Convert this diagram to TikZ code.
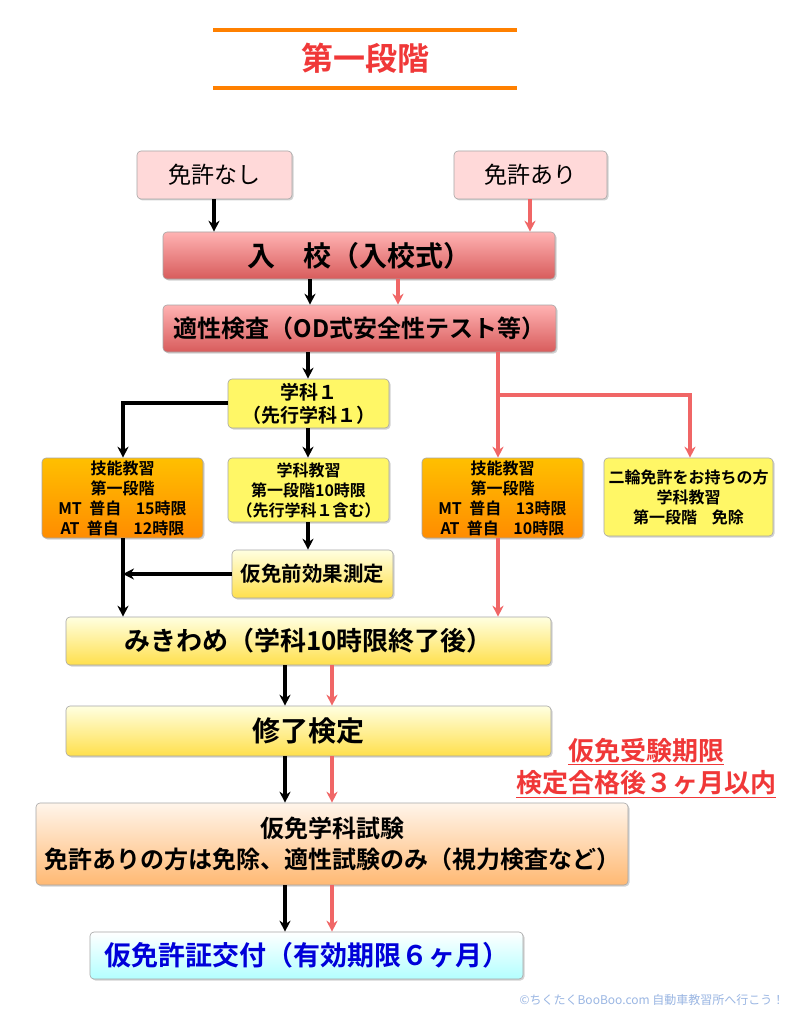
\documentclass[tikz,border=0pt]{standalone}
\usepackage{fontspec}
\setmainfont{Noto Sans CJK JP}[BoldFont={* Bold}]
\usetikzlibrary{arrows.meta,shadows}
\definecolor{rd}{HTML}{F06666}
\definecolor{tred}{HTML}{F03838}
\tikzset{
 bx/.style={draw=gray!70,rounded corners=4pt,line width=0.6pt,align=center,font=\bfseries,inner sep=0pt,drop shadow={shadow xshift=1.5pt,shadow yshift=-1.5pt,opacity=.35}},
 pinkb/.style={bx,fill=red!15},
 redb/.style={bx,top color=red!30,bottom color=rd!90!black},
 yel/.style={bx,fill=yellow!60},
 org/.style={bx,top color=orange!50!yellow,bottom color=orange!90!yellow},
 lyel/.style={bx,top color=yellow!12,bottom color=orange!35!yellow!70},
 lorg/.style={bx,top color=orange!8,bottom color=orange!55},
 cy/.style={bx,top color=white,bottom color=cyan!30},
 ka/.style={-{Stealth[length=11pt,width=11pt]},line width=3.4pt,black},
 ra/.style={-{Stealth[length=11pt,width=11pt]},line width=3.4pt,rd},
}
\begin{document}
\begin{tikzpicture}[x=1pt,y=-1pt]
\useasboundingbox[fill=white] (0,0) rectangle (807,1024);
\draw[orange,line width=4pt] (213,30)--(517,30) (213,88)--(517,88);
\node[font=\bfseries\fontsize{32}{34}\selectfont,text=tred] (title) at (365,58) {第一段階};
\def\B#1#2#3#4#5#6#7{\node[#1,minimum width=#4-#2,minimum height=#5-#3] (#6) at ({(#2+#4)/2},{(#3+#5)/2}) {#7};}
\B{pinkb,font=\mdseries\fontsize{23}{26}\selectfont}{137}{151}{292}{199}{nas}{免許なし}
\B{pinkb,font=\mdseries\fontsize{23}{26}\selectfont}{454}{151}{607}{199}{ari}{免許あり}
\B{redb,font=\bfseries\fontsize{28}{30}\selectfont}{163}{232}{555}{279}{nyu}{入　校（入校式）}
\B{redb,font=\bfseries\fontsize{24}{26}\selectfont}{163}{305}{556}{352}{tek}{適性検査（OD式安全性テスト等）}
\B{yel,font=\bfseries\fontsize{19}{23}\selectfont}{228}{379}{389}{428}{gk1}{学科１\\（先行学科１）}
\B{org,font=\bfseries\fontsize{16}{20}\selectfont}{42}{458}{203}{538}{gl}{技能教習\\第一段階\\MT\ \ 普自\ \ \ \ 15時限\\AT\ \ 普自\ \ \ \ 12時限}
\B{yel,font=\bfseries\fontsize{16}{20}\selectfont}{228}{458}{389}{522}{gm}{学科教習\\第一段階10時限\\（先行学科１含む）}
\B{org,font=\bfseries\fontsize{16}{20}\selectfont}{422}{458}{583}{538}{gr}{技能教習\\第一段階\\MT\ \ 普自\ \ \ \ 13時限\\AT\ \ 普自\ \ \ \ 10時限}
\B{yel,font=\bfseries\fontsize{16}{20}\selectfont}{604}{458}{773}{536}{ni}{二輪免許をお持ちの方\\学科教習\\第一段階\ \ \ \ 免除}
\B{lyel,font=\bfseries\fontsize{20.5}{23}\selectfont}{232}{550}{393}{598}{kk}{仮免前効果測定}
\B{lyel,font=\bfseries\fontsize{26}{28}\selectfont}{66}{617}{551}{665}{mk}{みきわめ（学科10時限終了後）}
\B{lyel,font=\bfseries\fontsize{28}{30}\selectfont}{66}{706}{551}{756}{sk}{修了検定}
\B{lorg,font=\bfseries\fontsize{24}{31}\selectfont}{36}{803}{628}{885}{ks}{仮免学科試験\\免許ありの方は免除、適性試験のみ（視力検査など）}
\B{cy,font=\bfseries\fontsize{27}{29}\selectfont,text=blue!85!black}{90}{932}{523}{979}{kf}{仮免許証交付（有効期限６ヶ月）}
\node[font=\bfseries\fontsize{26}{32}\selectfont,text=tred,align=center] (lim) at (646,768) {\underline{仮免受験期限}\\\underline{検定合格後３ヶ月以内}};
\node[font=\fontsize{12}{13}\selectfont,text=cyan!50!blue!40,inner sep=0pt] (cr) at (652,1000) {©ちくたくBooBoo.com 自動車教習所へ行こう！};
% arrows
\draw[ka] (nas.south-|214,0) -- (nyu.north-|214,0);
\draw[ra] (ari.south-|530,0) -- (nyu.north-|530,0);
\draw[ka] (nyu.south-|310,0) -- (tek.north-|310,0);
\draw[ra] (nyu.south-|398,0) -- (tek.north-|398,0);
\draw[ka] (tek.south-|308,0) -- (gk1.north-|308,0);
\coordinate (rb) at (498,395);
\draw[ra] (tek.south-|498,0) -- (rb) -- (gr.north-|498,0);
\draw[ra] (rb) -- (690,395) -- (ni.north-|690,0);
\draw[ka] (gk1.west|-0,403) -- (123,403) -- (gl.north-|123,0);
\draw[ka] (gk1.south-|308,0) -- (gm.north-|308,0);
\draw[ka] (gm.south-|308,0) -- (kk.north-|308,0);
\draw[ka] (kk.west|-0,574) -- (123,574);
\draw[ka] (gl.south-|123,0) -- (mk.north-|123,0);
\draw[ra] (gr.south-|498,0) -- (mk.north-|498,0);
\draw[ka] (mk.south-|285,0) -- (sk.north-|285,0);
\draw[ra] (mk.south-|332,0) -- (sk.north-|332,0);
\draw[ka] (sk.south-|285,0) -- (ks.north-|285,0);
\draw[ra] (sk.south-|332,0) -- (ks.north-|332,0);
\draw[ka] (ks.south-|285,0) -- (kf.north-|285,0);
\draw[ra] (ks.south-|332,0) -- (kf.north-|332,0);
\end{tikzpicture}
\end{document}
